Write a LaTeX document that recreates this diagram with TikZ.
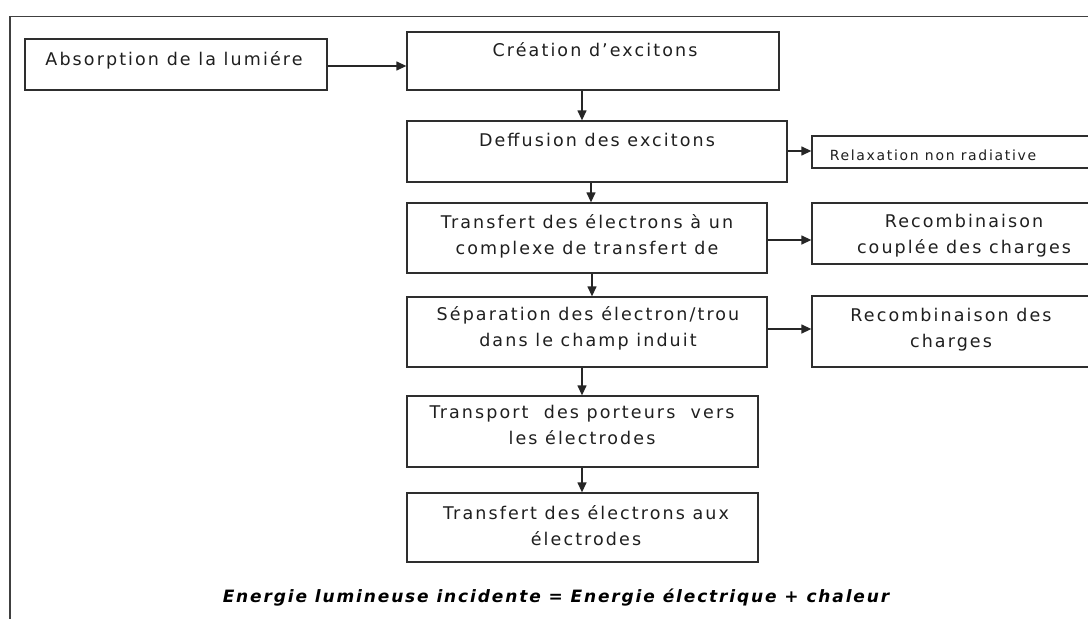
\documentclass[tikz,border=0pt]{standalone}
\usepackage{fontspec}
\setmainfont{DejaVu Sans}[LetterSpace=12]
\newfontfamily\smallfont{DejaVu Sans}[LetterSpace=12]
\newfontfamily\eqfont{DejaVu Sans}[LetterSpace=11]
\usetikzlibrary{arrows.meta}
\tikzset{
  box/.style={draw=black!82, line width=1.3pt, rectangle, inner sep=0pt},
  txt/.style={inner sep=0pt, align=center, font=\fontsize{17.5pt}{26pt}\selectfont, text=black!88},
  smalltxt/.style={inner sep=0pt, align=center, font=\smallfont\fontsize{14pt}{18pt}\selectfont, text=black!88},
  arr/.style={draw=black!85, line width=1.3pt, -{Triangle[length=10pt,width=9pt]}},
  frame/.style={draw=black!75, line width=1.4pt}
}
\begin{document}
\begin{tikzpicture}[x=1pt,y=-1pt]
\useasboundingbox (0,0) rectangle (1088,619);
\clip (0,0) rectangle (1088,619);
\fill[white] (0,0) rectangle (1088,619);
\draw[frame] (1100,16.5) -| (10,630);

% boxes
\node[box, minimum width=302pt, minimum height=51pt] (abs) at (176,64.5) {};
\node[box, minimum width=372pt, minimum height=58pt] (cre) at (593,61) {};
\node[box, minimum width=380pt, minimum height=61pt] (deff) at (597,151.5) {};
\node[box, minimum width=308pt, minimum height=32pt] (relax) at (966,152) {};
\node[box, minimum width=360pt, minimum height=70pt] (trans) at (587,238) {};
\node[box, minimum width=308pt, minimum height=61pt] (rec1) at (966,233.5) {};
\node[box, minimum width=360pt, minimum height=70pt] (sep) at (587,332) {};
\node[box, minimum width=308pt, minimum height=71pt] (rec2) at (966,331.5) {};
\node[box, minimum width=351pt, minimum height=71pt] (transp) at (582.5,431.5) {};
\node[box, minimum width=351pt, minimum height=69pt] (final) at (582.5,527.5) {};

% texts
\node[txt] (abst) at (174,60) {Absorption de la lumiére};
\node[txt] (cret) at (595,50) {Création d’excitons};
\node[txt] (defft) at (597,140) {Deffusion des excitons};
\node[smalltxt] (relaxt) at (933,155) {Relaxation non radiative};
\node[txt] (transt) at (587,236) {Transfert des électrons à un\\complexe de transfert de};
\node[txt] (rec1t) at (964,236) {Recombinaison\\couplée des charges};
\node[txt] (sept) at (588,328.5) {Séparation des électron/trou\\dans le champ induit};
\node[txt] (rec2t) at (951,329.5) {Recombinaison des\\charges};
\node[txt] (transpt) at (582,425) {Transport\ \ des porteurs\ \ vers\\les électrodes};
\node[txt] (finalt) at (586,526) {Transfert des électrons aux\\électrodes};

% equation
\node[inner sep=0pt, font=\eqfont\bfseries\itshape\fontsize{17pt}{18pt}\selectfont] (eq) at (556,598) {Energie lumineuse incidente = Energie électrique + chaleur};

% connectors
\draw[arr] (abs.east |- 0,66) -- (cre.west |- 0,66);
\draw[arr] (cre.south -| 582,0) -- (deff.north -| 582,0);
\draw[arr] (deff.east |- 0,151) -- (relax.west |- 0,151);
\draw[arr] (deff.south -| 591,0) -- (trans.north -| 591,0);
\draw[arr] (trans.east |- 0,240) -- (rec1.west |- 0,240);
\draw[arr] (trans.south -| 592,0) -- (sep.north -| 592,0);
\draw[arr] (sep.east |- 0,329) -- (rec2.west |- 0,329);
\draw[arr] (sep.south -| 582,0) -- (transp.north -| 582,0);
\draw[arr] (transp.south -| 582,0) -- (final.north -| 582,0);
\end{tikzpicture}
\end{document}
